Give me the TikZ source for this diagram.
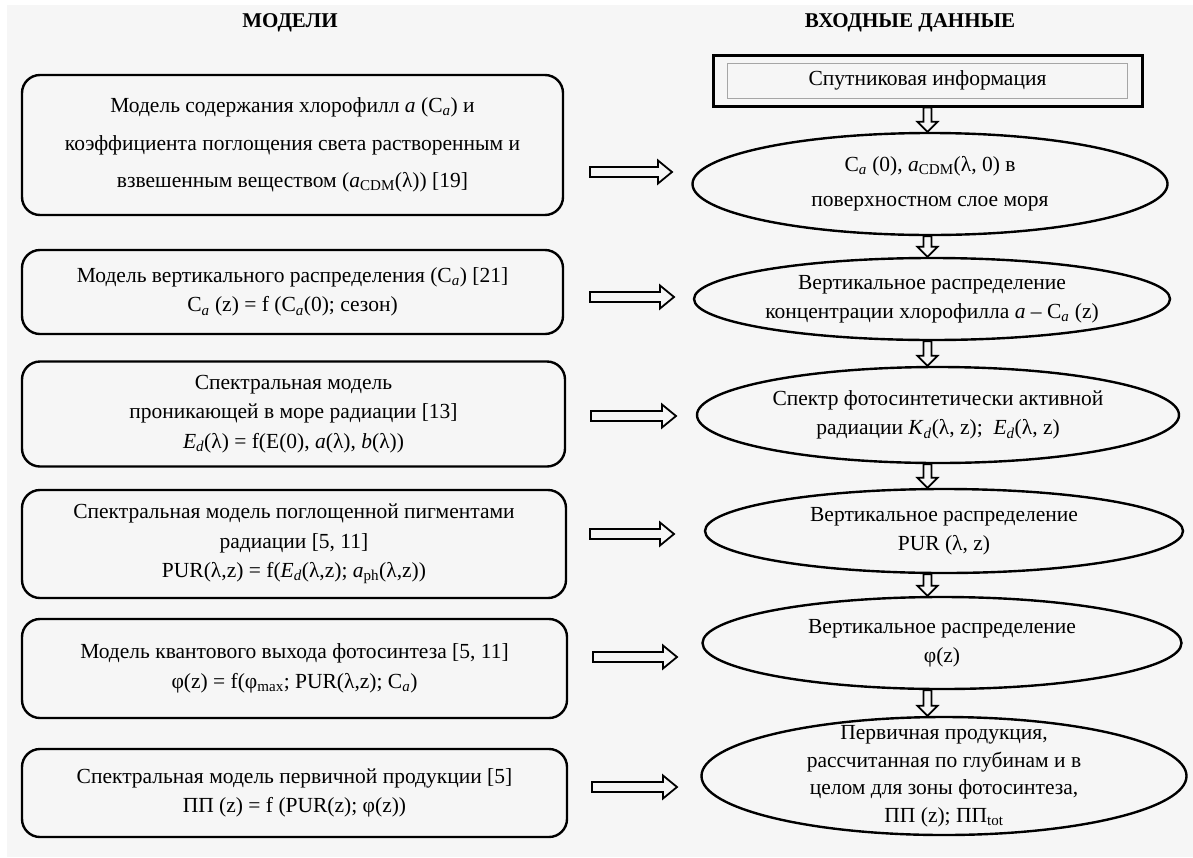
\documentclass[tikz,border=0pt]{standalone}
\usepackage{fontspec}
\setmainfont{Liberation Serif}
\usetikzlibrary{calc,shapes.geometric}
\newcommand{\msub}[1]{\textsubscript{#1}}
\newcommand{\Ca}{C\textsubscript{\textit{a}}}
\definecolor{bg}{HTML}{F6F6F6}
\begin{document}
\begin{tikzpicture}[x=1pt,y=-1pt,
  mbox/.style={draw, line width=2.4pt, rounded corners=18pt, inner sep=0pt, align=center,
    font=\fontsize{21.5}{29.5}\selectfont},
  ell/.style={draw, ellipse, line width=2.4pt, inner sep=0pt},
  etxt/.style={align=center, inner sep=0pt, font=\fontsize{21.5}{29.5}\selectfont},
  head/.style={font=\bfseries\fontsize{21}{24}\selectfont},
  hfat/.style={draw, fill=bg, line width=1.8pt, line join=miter, to path={
    ($(\tikztostart)+(0,-5)$) -- ($(\tikztotarget)+(-14,-5)$) -- ($(\tikztotarget)+(-14,-11.5)$)
    -- (\tikztotarget) -- ($(\tikztotarget)+(-14,11.5)$) -- ($(\tikztotarget)+(-14,5)$)
    -- ($(\tikztostart)+(0,5)$) -- cycle}},
  vfat/.style={draw, fill=bg, line width=1.8pt, line join=miter, to path={
    ($(\tikztostart)+(-4,0)$) -- ($(\tikztotarget)+(-4,-10)$) -- ($(\tikztotarget)+(-10,-10)$)
    -- (\tikztotarget) -- ($(\tikztotarget)+(10,-10)$) -- ($(\tikztotarget)+(4,-10)$)
    -- ($(\tikztostart)+(4,0)$) -- cycle}}
]
\useasboundingbox (0,0) rectangle (1193,857);
\fill[white] (0,0) rectangle (1193,857);
\fill[bg] (7,5) rectangle (1193,857);

% headers
\node[head] (h1) at (290,23) {МОДЕЛИ};
\node[head] (h2) at (910,23) {ВХОДНЫЕ ДАННЫЕ};

% left model boxes
\node[mbox, minimum width=541, minimum height=140, font=\fontsize{21.5}{37.5}\selectfont] (b1) at (292.5,145)
  {Модель содержания хлорофилл \textit{a} (\Ca) и\\
   коэффициента поглощения света растворенным и\\
   взвешенным веществом (\textit{a}\msub{CDM}(λ)) [19]};
\node[mbox, minimum width=541, minimum height=84] (b2) at (292.5,292)
  {Модель вертикального распределения (\Ca) [21]\\
   \Ca{} (z) = f (\Ca(0); сезон)};
\node[mbox, minimum width=543, minimum height=105] (b3) at (293.5,414)
  {Спектральная модель\\
   проникающей в море радиации [13]\\
   \textit{E}\msub{\textit{d}}(λ) = f(E(0), \textit{a}(λ), \textit{b}(λ))};
\node[mbox, minimum width=544, minimum height=108] (b4) at (294,544)
  {Спектральная модель поглощенной пигментами\\
   радиации [5, 11]\\
   PUR(λ,z) = f(\textit{E}\msub{\textit{d}}(λ,z); \textit{a}\msub{ph}(λ,z))};
\node[mbox, minimum width=545, minimum height=99] (b5) at (294.5,668.5)
  {Модель квантового выхода фотосинтеза [5, 11]\\
   φ(z) = f(φ\msub{max}; PUR(λ,z); \Ca)};
\node[mbox, minimum width=545, minimum height=88] (b6) at (294.5,793)
  {Спектральная модель первичной продукции [5]\\
   ПП (z) = f (PUR(z); φ(z))};

% top box
\node[draw, line width=3pt, minimum width=429, minimum height=51, inner sep=0pt] (top) at (927.5,80.5) {};
\node[draw=gray!70, line width=0.6pt, minimum width=400, minimum height=35, inner sep=0pt,
  font=\fontsize{21.5}{24}\selectfont] (topin) at (927.5,80.5) {Спутниковая информация};

% ellipses
\node[ell, minimum width=475, minimum height=102] (e1) at (930,184) {};
\node[ell, minimum width=476, minimum height=82] (e2) at (932,299) {};
\node[ell, minimum width=482, minimum height=96] (e3) at (938,415) {};
\node[ell, minimum width=478, minimum height=84] (e4) at (944,531) {};
\node[ell, minimum width=479, minimum height=92] (e5) at (942,643) {};
\node[ell, minimum width=485, minimum height=118] (e6) at (944,776) {};

\node[etxt, font=\fontsize{21.5}{35}\selectfont] (t1) at (e1) {\Ca{} (0), \textit{a}\msub{CDM}(λ, 0) в\\ поверхностном слое моря};
\node[etxt] (t2) at (e2) {Вертикальное распределение\\ концентрации хлорофилла \textit{a} – \Ca{} (z)};
\node[etxt] (t3) at (e3) {Спектр фотосинтетически активной\\ радиации \textit{K}\msub{\textit{d}}(λ, z);\enspace \textit{E}\msub{\textit{d}}(λ, z)};
\node[etxt] (t4) at (e4) {Вертикальное распределение\\ PUR (λ, z)};
\node[etxt] (t5) at (e5) {Вертикальное распределение\\ φ(z)};
\node[etxt, font=\fontsize{21.5}{27.5}\selectfont] (t6) at (e6) {Первичная продукция,\\ рассчитанная по глубинам и в\\ целом для зоны фотосинтеза,\\ ПП (z); ПП\msub{tot}};

% horizontal arrow end points
\coordinate (a1s) at (590,172); \coordinate (a1e) at (672,172);
\coordinate (a2s) at (590,297); \coordinate (a2e) at (674,297);
\coordinate (a3s) at (591,416); \coordinate (a3e) at (676,416);
\coordinate (a4s) at (590,534); \coordinate (a4e) at (674,534);
\coordinate (a5s) at (593,657); \coordinate (a5e) at (677,657);
\coordinate (a6s) at (592,787); \coordinate (a6e) at (677,787);
\foreach \i in {1,...,6} { \draw[hfat] (a\i s) to (a\i e); }

% vertical arrows
\draw[vfat] (top.south) to (top.south |- e1.north);
\draw[vfat] (top.south |- e1.south) to (top.south |- e2.north);
\draw[vfat] (top.south |- e2.south) to (top.south |- e3.north);
\draw[vfat] (top.south |- e3.south) to (top.south |- e4.north);
\draw[vfat] (top.south |- e4.south) to (top.south |- e5.north);
\draw[vfat] (top.south |- e5.south) to (top.south |- e6.north);
\end{tikzpicture}
\end{document}
